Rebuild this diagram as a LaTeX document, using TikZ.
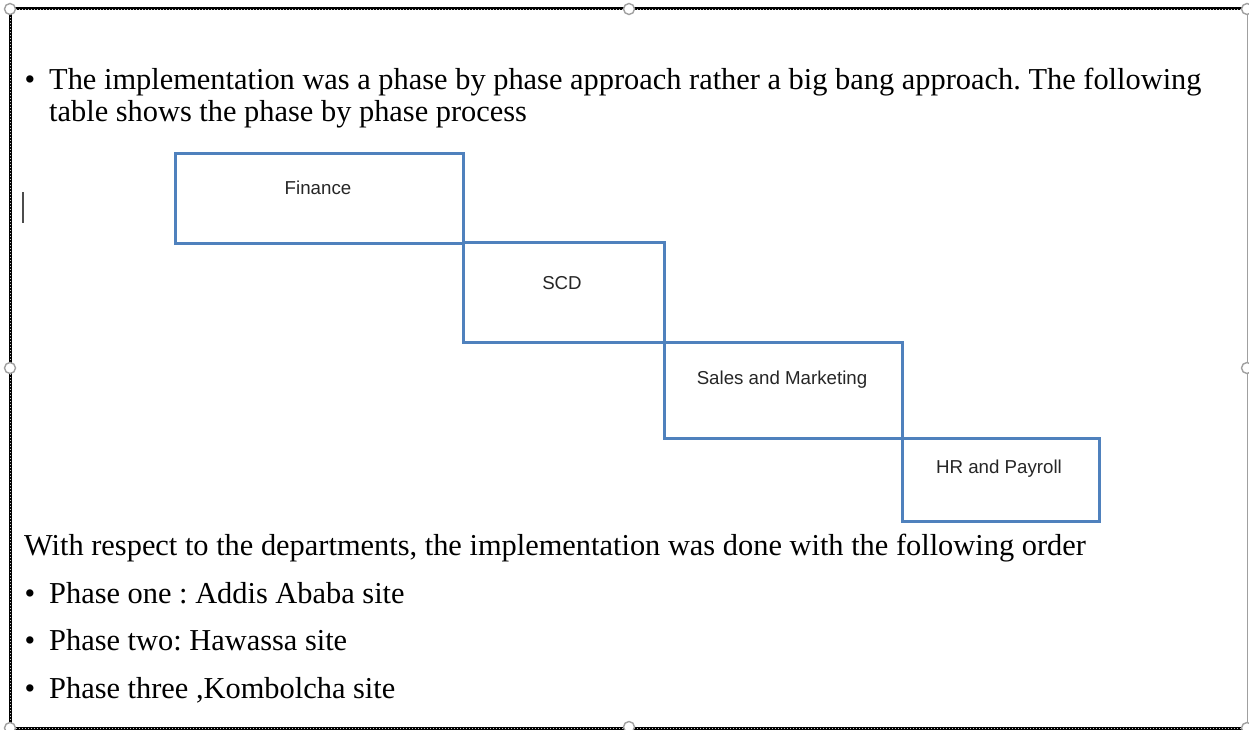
\documentclass[tikz,border=0pt]{standalone}
\usepackage{fontspec}
\setmainfont{Liberation Serif}
\newfontfamily\boxfont{Liberation Sans}
\definecolor{stageblue}{RGB}{79,129,189}
\definecolor{handlegray}{RGB}{160,160,160}
\definecolor{labelgray}{RGB}{38,38,38}
\begin{document}
\frenchspacing
\begin{tikzpicture}[x=1pt,y=-1pt,
  stagebox/.style={draw=stageblue, line width=3pt, rectangle, inner sep=0pt},
  stagetext/.style={font=\boxfont\fontsize{18.7}{22}\selectfont, text=labelgray, inner sep=0pt},
  bodytext/.style={font=\fontsize{30.4}{34}\selectfont, anchor=base west, inner sep=0pt},
  bulletmark/.style={font=\fontsize{30.4}{34}\selectfont, anchor=base, inner sep=0pt},
  handle/.style={draw=handlegray, fill=white, line width=1.4pt, circle, minimum size=11pt, inner sep=0pt}]
\useasboundingbox (0,0) rectangle (1249,730);
\clip (0,0) rectangle (1249,730);

% text box frame
\coordinate (tl) at (10,9);
\coordinate (tr) at (1247,9);
\coordinate (br) at (1247,728);
\coordinate (bl) at (10,728);
\draw[black, line width=3pt] (tr) -- (tl) -- (bl) -- (br);
\draw[gray!45, line width=0.6pt, dash pattern=on 1pt off 2pt] (tr) -- (tl) -- (bl) -- (br);
\draw[handlegray, line width=1pt] (tr) -- (br);

% selection handles
\foreach \n/\p in {h1/{(10,9)}, h2/{(629,9)}, h3/{(1247,9)}, h4/{(10,368)},
                   h5/{(1247,368)}, h6/{(10,728)}, h7/{(629,727)}, h8/{(1247,728)}}
  \node[handle] (\n) at \p {};

% text cursor
\coordinate (c1) at (23,192);
\coordinate (c2) at (23,223);
\draw[black!70, line width=1.3pt] (c1) -- (c2);

% opening paragraph
\node[bulletmark] (b1) at (30,90) {\textbullet};
\node[bodytext] (p1) at (49,90) {The implementation was a phase by phase approach rather a big bang approach. The following};
\node[bodytext] (p2) at (49,122) {table shows the phase by phase process};

% staircase of phases
\node[stagebox, minimum width=288pt, minimum height=89pt] (fin) at (319,198.5) {};
\node[stagebox, minimum width=201pt, minimum height=100pt] (scd) at (563.5,292) {};
\node[stagebox, minimum width=238pt, minimum height=96pt] (sm) at (783,390) {};
\node[stagebox, minimum width=197pt, minimum height=83pt] (hr) at (1000.5,479.5) {};

\node[stagetext] (tfin) at (318,188) {Finance};
\node[stagetext] (tscd) at (562,283) {SCD};
\node[stagetext] (tsm) at (782,380) {Sales and Marketing};
\node[stagetext] (thr) at (999,469) {HR and Payroll};

% closing paragraph and list
\node[bodytext] (p3) at (24,555) {With respect to the departments, the implementation was done with the following order};
\node[bulletmark] (b2) at (30,603) {\textbullet};
\node[bodytext] (l1) at (49,603) {Phase one : Addis Ababa site};
\node[bulletmark] (b3) at (30,650) {\textbullet};
\node[bodytext] (l2) at (49,650) {Phase two: Hawassa site};
\node[bulletmark] (b4) at (30,698) {\textbullet};
\node[bodytext] (l3) at (49,698) {Phase three ,Kombolcha site};
\end{tikzpicture}
\end{document}
